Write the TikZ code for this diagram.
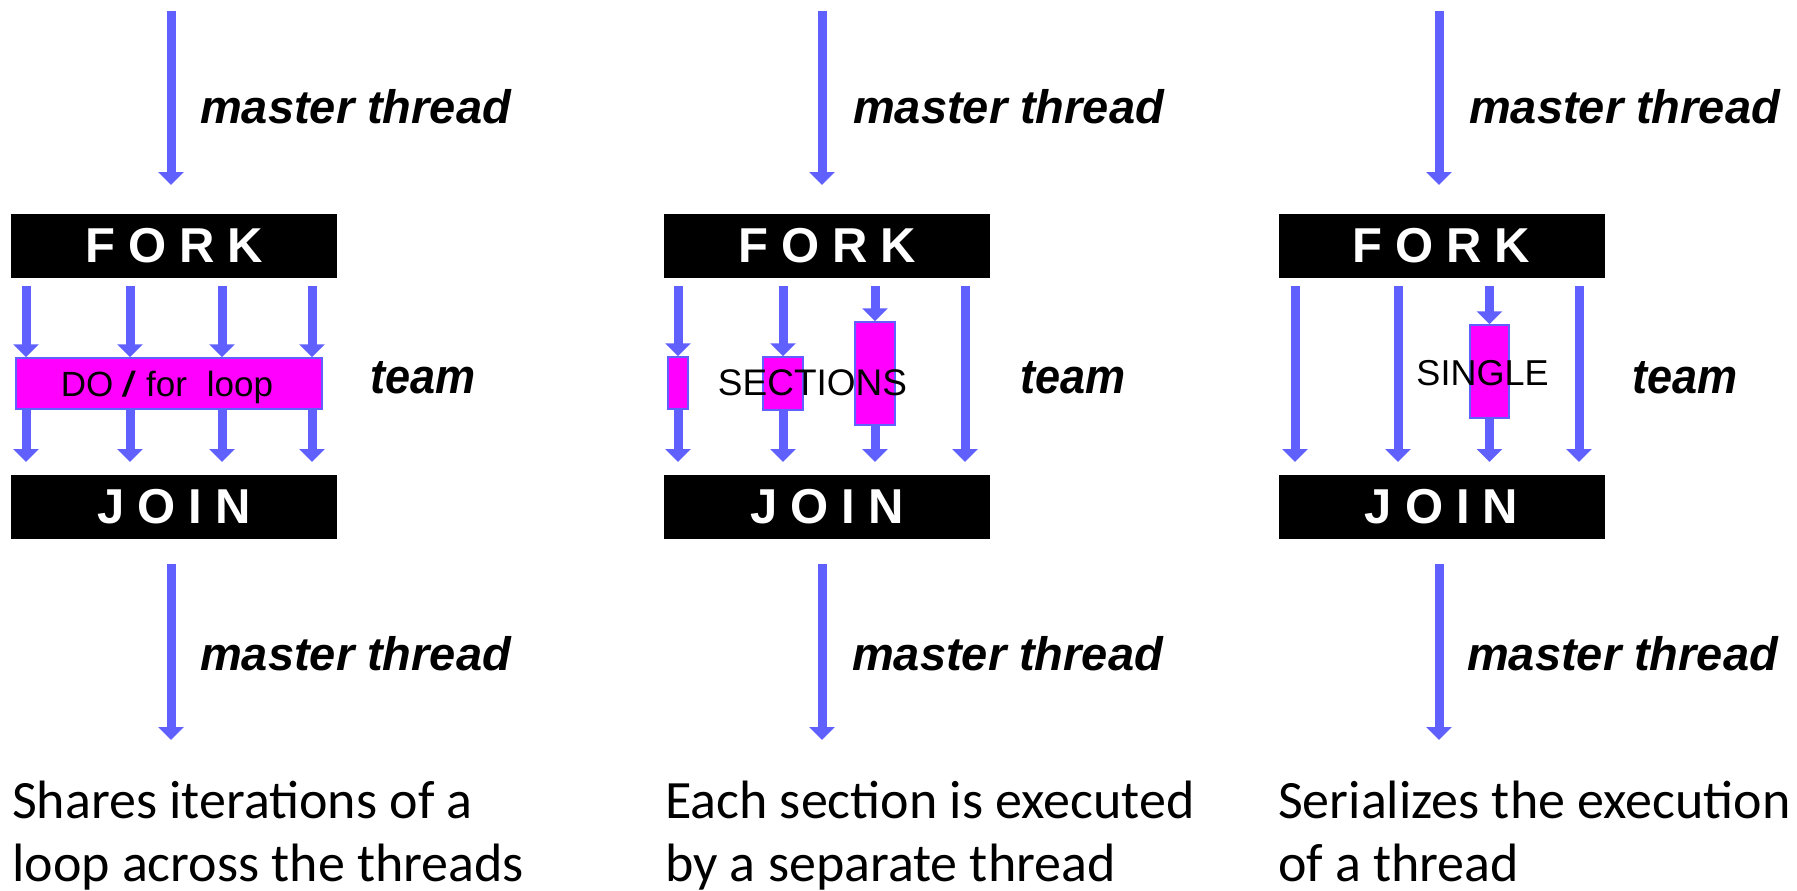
\documentclass[tikz,border=0pt]{standalone}
\usepackage{fontspec}
\setmainfont{Liberation Sans}
\newfontfamily\calib{Carlito}
\usetikzlibrary{arrows.meta}
\definecolor{thr}{RGB}{96,96,255}
\definecolor{mag}{RGB}{255,0,255}
\begin{document}
\begin{tikzpicture}[x=1pt,y=-1pt,
  thrarrow/.style={thr, line width=9pt, -{Triangle[width=25pt,length=13pt]}},
  bar/.style={fill=black, minimum width=326pt, minimum height=64pt, inner sep=0pt, text=white, font=\fontsize{49}{49}\selectfont\bfseries},
  work/.style={fill=mag, draw=thr, line width=1.5pt, inner sep=0pt},
  mt/.style={anchor=base west, inner sep=0pt, font=\fontsize{47}{47}\selectfont\bfseries\itshape},
  inlbl/.style={anchor=base, inner sep=0pt},
  captxt/.style={anchor=base west, inner sep=0pt, font=\calib\fontsize{54}{63}\selectfont}
]
\useasboundingbox (0,0) rectangle (1797,891);

% ---------------- panel 1 ----------------
\node[bar] (fork1) at (174,246) {F\kern13pt O\kern13pt R\kern13pt K};
\node[bar] (join1) at (174,506.5) {J\kern13pt O\kern13pt I\kern13pt N};
\coordinate (t1a) at (171,11);
\coordinate (t1b) at (171,185);
\coordinate (b1a) at (171,564);
\coordinate (b1b) at (171,740);
\draw[thrarrow] (t1a) -- (t1b);
\draw[thrarrow] (b1a) -- (b1b);
\node[work, minimum width=306pt, minimum height=51pt] (do) at (169,383.5) {};
\foreach \x in {26,130,222,312}{
  \draw[thrarrow] (\x,286) -- (\x,0 |- do.north);
  \draw[thrarrow] (\x,0 |- do.south) -- (\x,462);
}
\node[inlbl, font=\fontsize{35}{35}\selectfont] (dotxt) at (167,396) {DO\hspace{10pt}\textbf{\textit{/}}\hspace{10pt}for\hspace{20pt}loop};
\node[mt] (mt1a) at (200,123) {master thread};
\node[mt] (mt1b) at (200,670) {master thread};
\node[mt, font=\fontsize{49}{49}\selectfont\bfseries\itshape] (team1) at (370,393) {\scalebox{0.92}[1]{team}};
\node[captxt] (c1a) at (12,818) {Shares iterations of a};
\node[captxt] (c1b) at (12,881) {loop across the threads};

% ---------------- panel 2 ----------------
\node[bar] (fork2) at (827,246) {F\kern13pt O\kern13pt R\kern13pt K};
\node[bar] (join2) at (827,506.5) {J\kern13pt O\kern13pt I\kern13pt N};
\coordinate (t2a) at (822,11);
\coordinate (t2b) at (822,185);
\coordinate (b2a) at (822,564);
\coordinate (b2b) at (822,740);
\draw[thrarrow] (t2a) -- (t2b);
\draw[thrarrow] (b2a) -- (b2b);
\node[work, minimum width=20pt, minimum height=52pt] (s1) at (678,383) {};
\node[work, minimum width=40pt, minimum height=53pt] (s2) at (783,383.5) {};
\node[work, minimum width=40pt, minimum height=103pt] (s3) at (875,373.5) {};
\draw[thrarrow] (678,286) -- (s1.north);
\draw[thrarrow] (s1.south) -- (678,462);
\draw[thrarrow] (783,286) -- (s2.north);
\draw[thrarrow] (s2.south) -- (783,462);
\draw[thrarrow] (875,286) -- (s3.north);
\draw[thrarrow] (s3.south) -- (875,462);
\draw[thrarrow] (965,286) -- (965,462);
\node[inlbl, font=\fontsize{37}{37}\selectfont] (sectxt) at (812.5,395) {SECTIONS};
\node[mt] (mt2a) at (853,123) {master thread};
\node[mt] (mt2b) at (852,670) {master thread};
\node[mt, font=\fontsize{49}{49}\selectfont\bfseries\itshape] (team2) at (1020,393) {\scalebox{0.92}[1]{team}};
\node[captxt] (c2a) at (665,818) {Each section is executed};
\node[captxt] (c2b) at (665,881) {by a separate thread};

% ---------------- panel 3 ----------------
\node[bar] (fork3) at (1441.5,246) {F\kern13pt O\kern13pt R\kern13pt K};
\node[bar] (join3) at (1441.5,506.5) {J\kern13pt O\kern13pt I\kern13pt N};
\coordinate (t3a) at (1439,11);
\coordinate (t3b) at (1439,185);
\coordinate (b3a) at (1439,564);
\coordinate (b3b) at (1439,740);
\draw[thrarrow] (t3a) -- (t3b);
\draw[thrarrow] (b3a) -- (b3b);
\node[work, minimum width=39pt, minimum height=93pt] (g1) at (1489.5,371.5) {};
\foreach \x in {1295,1398,1579}{
  \draw[thrarrow] (\x,286) -- (\x,462);
}
\draw[thrarrow] (1489.5,286) -- (g1.north);
\draw[thrarrow] (g1.south) -- (1489.5,462);
\node[inlbl, font=\fontsize{36}{36}\selectfont] (sgltxt) at (1482.5,385) {SINGLE};
\node[mt] (mt3a) at (1469,123) {master thread};
\node[mt] (mt3b) at (1467,670) {master thread};
\node[mt, font=\fontsize{49}{49}\selectfont\bfseries\itshape] (team3) at (1632,393) {\scalebox{0.92}[1]{team}};
\node[captxt] (c3a) at (1278,818) {Serializes the execution};
\node[captxt] (c3b) at (1278,881) {of a thread};
\end{tikzpicture}
\end{document}
